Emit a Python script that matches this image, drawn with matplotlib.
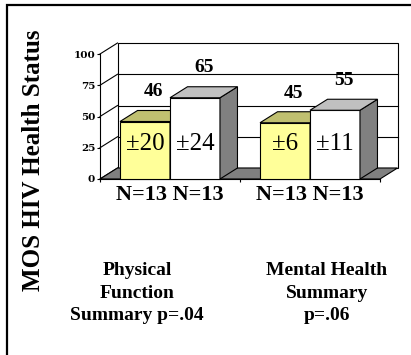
import matplotlib
matplotlib.use("Agg")
import matplotlib.pyplot as plt
from matplotlib.patches import Polygon, Rectangle
from matplotlib.lines import Line2D

# --- data -------------------------------------------------------------
categories = ["Physical\nFunction\nSummary p=.04", "Mental Health\nSummary\np=.06"]
group_a_means = [46, 45]      # yellow bars
group_b_means = [65, 55]      # white bars
group_a_sd = [20, 6]
group_b_sd = [24, 11]
group_a_n = [13, 13]
group_b_n = [13, 13]
y_ticks = [0, 25, 50, 75, 100]
y_label = "MOS HIV Health Status"

# --- styling ----------------------------------------------------------
SERIF = "Liberation Serif"
series_styles = [
    dict(front="#FFFF99", top="#C0C070", side="#808040"),
    dict(front="#FFFFFF", top="#C0C0C0", side="#808080"),
]
W_PX, H_PX, DPI = 411, 355, 100
fig = plt.figure(figsize=(W_PX / DPI, H_PX / DPI), dpi=DPI)

# front plane of the 3-D box, in pixels
ax_l, ax_r, ax_top, ax_bot = 100, 380, 54, 179
ax = fig.add_axes([ax_l / W_PX, (H_PX - ax_bot) / H_PX,
                   (ax_r - ax_l) / W_PX, (ax_bot - ax_top) / H_PX])
xmin, xmax, ymin, ymax = -0.5, 1.5, 0, 100

# depth offset of the box, converted from pixels to data units
depth_px = (17.5, 11.0)
DX = depth_px[0] * (xmax - xmin) / (ax_r - ax_l)
DY = depth_px[1] * (ymax - ymin) / (ax_bot - ax_top)

def poly(pts, fc, z, ec="black", lw=0.8):
    p = Polygon(pts, closed=True, facecolor=fc, edgecolor=ec, linewidth=lw,
                zorder=z, clip_on=False, joinstyle="miter")
    ax.add_patch(p)

def line(xs, ys, z, lw=0.8):
    ax.add_line(Line2D(xs, ys, color="black", linewidth=lw, zorder=z,
                       clip_on=False))

# back wall with gridlines
poly([(xmin + DX, ymin + DY), (xmax + DX, ymin + DY),
      (xmax + DX, ymax + DY), (xmin + DX, ymax + DY)], "white", 0.2)
for v in y_ticks[1:-1]:
    line([xmin + DX, xmax + DX], [v + DY, v + DY], 0.3)
# side wall diagonals
for v in y_ticks:
    line([xmin, xmin + DX], [v, v + DY], 0.3)
# floor
poly([(xmin, ymin), (xmax, ymin), (xmax + DX, ymin + DY), (xmin + DX, ymin + DY)],
     "#808080", 0.4)

# bars
bar_w = 0.357
series = [(group_a_means, group_a_sd), (group_b_means, group_b_sd)]
z = 1.0
for gi in range(len(categories)):
    for si, (means, sds) in enumerate(series):
        st = series_styles[si]
        v = means[gi]
        x0 = gi + (si - 1) * bar_w
        x1 = x0 + bar_w
        poly([(x0, 0), (x1, 0), (x1, v), (x0, v)], st["front"], z)
        poly([(x1, 0), (x1 + DX, DY), (x1 + DX, v + DY), (x1, v)], st["side"], z)
        poly([(x0, v), (x1, v), (x1 + DX, v + DY), (x0 + DX, v + DY)], st["top"], z)
        z += 1
        xc = (x0 + x1) / 2
        ax.annotate(f"{v}", (xc + DX / 2, v + DY), xytext=(0, 13.5),
                    textcoords="offset points", ha="center", va="center",
                    fontfamily=SERIF, fontweight="bold", fontsize=14, zorder=20,
                    annotation_clip=False)
        ax.text(xc, 28, f"\u00b1{sds[gi]}", ha="center", va="center",
                fontfamily=SERIF, fontsize=18, zorder=20)

# axes decoration
for s in ("top", "right"):
    ax.spines[s].set_visible(False)
ax.spines["left"].set_zorder(0.5)
ax.spines["bottom"].set_zorder(0.5)
ax.patch.set_visible(False)
ax.set_yticks(y_ticks)
ax.set_yticklabels([str(t) for t in y_ticks], fontfamily="DejaVu Serif",
                   fontweight="bold", fontsize=7.5)
ax.tick_params(axis="y", direction="out", length=2.5, width=0.8, pad=1)
ax.set_xticks(range(len(categories)))
ax.set_xticklabels([f"N={a} N={b}" for a, b in zip(group_a_n, group_b_n)],
                   fontfamily=SERIF, fontweight="bold", fontsize=16)
ax.tick_params(axis="x", which="major", length=0, pad=4)
ax.set_xticks([xmin + i for i in range(len(categories) + 1)], minor=True)
ax.tick_params(axis="x", which="minor", direction="out", length=2.5, width=0.8)
ax.xaxis.set_minor_formatter(plt.NullFormatter())
ax.set_xlim(xmin, xmax)
ax.set_ylim(ymin, ymax)

# category captions
cat_pos_px = [(137, 293), (327, 293)]
for (px, py), txt in zip(cat_pos_px, categories):
    fig.text(px / W_PX, (H_PX - py) / H_PX, txt, ha="center", va="center",
             fontfamily=SERIF, fontweight="bold", fontsize=14, linespacing=1.45)

# vertical axis title
fig.text(33 / W_PX, (H_PX - 160) / H_PX, y_label, rotation=90, ha="center",
         va="center", fontfamily=SERIF, fontweight="bold", fontsize=18)

# outer frame
fig.add_artist(Rectangle((7 / W_PX, -0.2), 1.2, (H_PX - 5) / H_PX + 0.2,
                         transform=fig.transFigure, fill=False,
                         edgecolor="black", linewidth=1.6))

fig.savefig("out.png", dpi=DPI)
